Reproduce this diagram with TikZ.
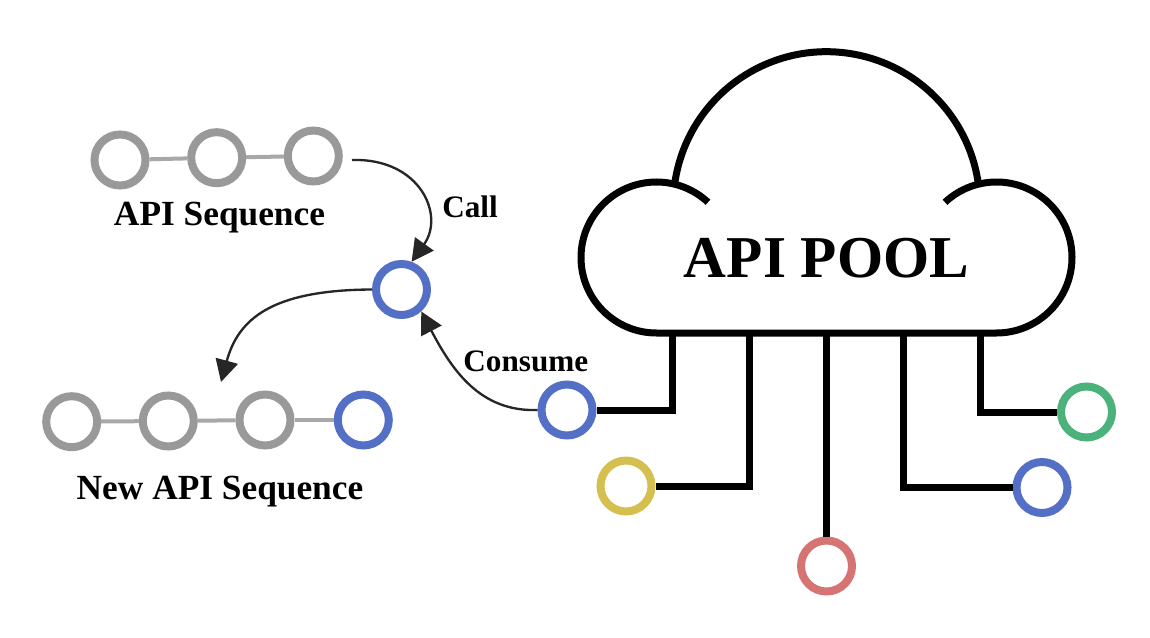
\documentclass[tikz,border=0pt]{standalone}
\usepackage{fontspec}
\setmainfont{Liberation Serif}
\usetikzlibrary{arrows.meta}
\definecolor{cblue}{HTML}{546FC6}
\definecolor{cyellow}{HTML}{D4BF50}
\definecolor{cred}{HTML}{D67474}
\definecolor{cgreen}{HTML}{4AB27A}
\definecolor{cgray}{HTML}{999999}
\definecolor{clink}{HTML}{A8A8A8}
\definecolor{carrow}{HTML}{262626}
\begin{document}
\begin{tikzpicture}[x=0.75pt,y=-0.75pt,
  ring/.style={circle,draw=#1,line width=6pt,minimum size=38.25pt,inner sep=0pt,fill=white},
  cloudline/.style={line width=5.25pt,black},
  stub/.style={line width=5.25pt,black},
  seqlink/.style={line width=3pt,clink},
  flow/.style={line width=1.75pt,carrow,-{Triangle[length=16.5pt,width=17pt]}},
  biglabel/.style={font=\bfseries\fontsize{44.5pt}{50pt}\selectfont,anchor=base,inner sep=0pt},
  seqlabel/.style={font=\bfseries\fontsize{26.5pt}{30pt}\selectfont,anchor=base,inner sep=0pt},
  smalllabel/.style={font=\bfseries\fontsize{23.4pt}{27pt}\selectfont,anchor=base,inner sep=0pt}]
\useasboundingbox (0,0) rectangle (1150,638);

% cloud
\draw[cloudline] (996.5,257.5) ++(227:75.5) arc[start angle=227,end angle=450,radius=75.5]
  -- (656.5,333) arc[start angle=90,end angle=313,radius=75.5];
\draw[cloudline] (826.5,205) ++(188.6:153.3) arc[start angle=188.6,end angle=351.4,radius=153.3];
\node[biglabel] (pool) at (826.5,277) {API POOL};

% pool circles
\node[ring=cblue] (c1) at (567,410) {};
\node[ring=cyellow] (c2) at (626,486) {};
\node[ring=cred] (c3) at (826.5,566) {};
\node[ring=cblue] (c4) at (1042,487.5) {};
\node[ring=cgreen] (c5) at (1086.5,412) {};

\coordinate (s1) at (672.5,333);
\coordinate (s2) at (749.5,333);
\coordinate (s3) at (826.5,333);
\coordinate (s4) at (903.5,333);
\coordinate (s5) at (980.5,333);
\draw[stub] (s1) |- (c1);
\draw[stub] (s2) |- (c2);
\draw[stub] (s3) -- (c3);
\draw[stub] (s4) |- (c4);
\draw[stub] (s5) |- (c5);

% API sequence
\node[ring=cgray] (g1) at (120,160) {};
\node[ring=cgray] (g2) at (216.7,157.7) {};
\node[ring=cgray] (g3) at (313.3,156) {};
\draw[seqlink] (g1) -- (g2);
\draw[seqlink] (g2) -- (g3);
\node[seqlabel] (seqlab) at (219.5,225.7) {API Sequence};

% middle node
\node[ring=cblue] (m) at (401.5,289.5) {};

% new API sequence
\node[ring=cgray] (n1) at (71.7,421.7) {};
\node[ring=cgray] (n2) at (168.3,421) {};
\node[ring=cgray] (n3) at (265,420) {};
\node[ring=cblue] (n4) at (363.3,420) {};
\draw[seqlink] (n1) -- (n2);
\draw[seqlink] (n2) -- (n3);
\draw[seqlink] (n3) -- (n4);
\node[seqlabel] (newlab) at (220,499.3) {New API Sequence};

% arrows
\coordinate (callstart) at (352,160);
\coordinate (newtip) at (221,382);
\draw[flow] (callstart) .. controls (420,158) and (445,215) .. (m.70);
\draw[flow] (c1.west) .. controls (480,412) and (452,370) .. (m.-48);
\draw[flow] (m.west) .. controls (270,290) and (238,320) .. (newtip);
\node[smalllabel] (call) at (470,217.7) {Call};
\node[smalllabel] (consume) at (525.8,371) {Consume};
\end{tikzpicture}
\end{document}
